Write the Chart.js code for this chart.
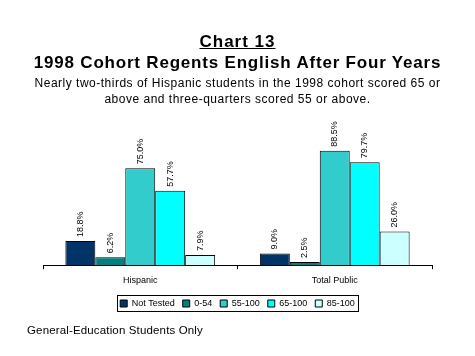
<!DOCTYPE html>
<html>
<head>
<meta charset="utf-8">
<script src="https://cdn.jsdelivr.net/npm/chart.js@4/dist/chart.umd.min.js"></script>
<style>
  html, body { margin: 0; padding: 0; background: #fff; }
  #wrap { position: relative; width: 475px; height: 356px; overflow: hidden; font-family: "Liberation Sans", Arial, sans-serif; color: #000; }
  canvas { position: absolute; left: 0; top: 0; }
  .t { position: absolute; left: 0; width: 475px; text-align: center; white-space: nowrap; }
  #t1 { top: 32px; font-size: 17px; font-weight: bold; text-decoration: underline; letter-spacing: 1px; }
  #t2 { top: 53px; font-size: 17px; font-weight: bold; letter-spacing: 0.8px; }
  #s1 { top: 75px; font-size: 12px; line-height: 16px; letter-spacing: 0.5px; }
  #foot { position: absolute; left: 27px; top: 324px; font-size: 11.5px; white-space: nowrap; letter-spacing: 0.15px; }
</style>
</head>
<body>
<div id="wrap">
  <canvas id="c" width="475" height="356"></canvas>
  <div class="t" id="t1">Chart 13</div>
  <div class="t" id="t2">1998 Cohort Regents English After Four Years</div>
  <div class="t" id="s1">Nearly two-thirds of Hispanic students in the 1998 cohort scored 65 or<br>above and three-quarters scored 55 or above.</div>
  <div id="foot">General-Education Students Only</div>
</div>
<script>
const categories = ['Hispanic', 'Total Public'];
const seriesNames = ['Not Tested', '0-54', '55-100', '65-100', '85-100'];
const notTested = [18.8, 9.0];
const score0to54 = [6.2, 2.5];
const score55to100 = [75.0, 88.5];
const score65to100 = [57.7, 79.7];
const score85to100 = [7.9, 26.0];
const seriesColors = ['#003366', '#008080', '#33CCCC', '#00FFFF', '#CCFFFF'];

const seriesData = [notTested, score0to54, score55to100, score65to100, score85to100];

const valueLabels = {
  id: 'valueLabels',
  afterDatasetsDraw(chart) {
    const ctx = chart.ctx;
    ctx.save();
    ctx.fillStyle = '#000';
    ctx.font = '9px "Liberation Sans", Arial, sans-serif';
    chart.data.datasets.forEach((ds, i) => {
      const meta = chart.getDatasetMeta(i);
      meta.data.forEach((bar, j) => {
        ctx.save();
        ctx.translate(bar.x, bar.y - 4);
        ctx.rotate(-Math.PI / 2);
        ctx.textAlign = 'left';
        ctx.textBaseline = 'middle';
        ctx.fillText(ds.data[j].toFixed(1) + '%', 0, 0);
        ctx.restore();
      });
    });
    ctx.restore();
  }
};

const legendBorder = {
  id: 'legendBorder',
  afterDraw(chart) {
    const lg = chart.legend;
    if (!lg || !lg.legendHitBoxes || !lg.legendHitBoxes.length) return;
    const hb = lg.legendHitBoxes;
    let l = Infinity, r = -Infinity, t = Infinity, b = -Infinity;
    hb.forEach(h => { l = Math.min(l, h.left); r = Math.max(r, h.left + h.width); t = Math.min(t, h.top); b = Math.max(b, h.top + h.height); });
    const ctx = chart.ctx;
    ctx.save();
    ctx.strokeStyle = '#000';
    ctx.lineWidth = 1;
    ctx.strokeRect(Math.round(l - 3) + 0.5, Math.round(t - 4) + 0.5, Math.round(r - l + 6), Math.round(b - t + 7));
    ctx.restore();
  }
};

new Chart(document.getElementById('c'), {
  type: 'bar',
  data: {
    labels: categories,
    datasets: seriesNames.map((name, i) => ({
      label: name,
      data: seriesData[i],
      backgroundColor: seriesColors[i],
      borderColor: '#000',
      borderWidth: 1,
      categoryPercentage: 0.77,
      barPercentage: 1.0
    }))
  },
  options: {
    responsive: false,
    animation: false,
    layout: { padding: { left: 43, right: 43, top: 136, bottom: 38 } },
    scales: {
      x: {
        grid: { display: true, offset: true, drawOnChartArea: false, tickLength: 4, color: '#000', tickColor: '#000' },
        border: { display: true, color: '#000', width: 1 },
        ticks: { color: '#000', font: { size: 9, family: '"Liberation Sans", Arial, sans-serif' }, padding: 5.5 }
      },
      y: { display: false, min: 0, max: 100 }
    },
    plugins: {
      legend: {
        position: 'bottom',
        labels: { boxWidth: 7, boxHeight: 7, padding: 8, color: '#000', font: { size: 9, family: '"Liberation Sans", Arial, sans-serif' } }
      },
      title: { display: false },
      tooltip: { enabled: false }
    }
  },
  plugins: [valueLabels, legendBorder]
});
</script>
</body>
</html>
